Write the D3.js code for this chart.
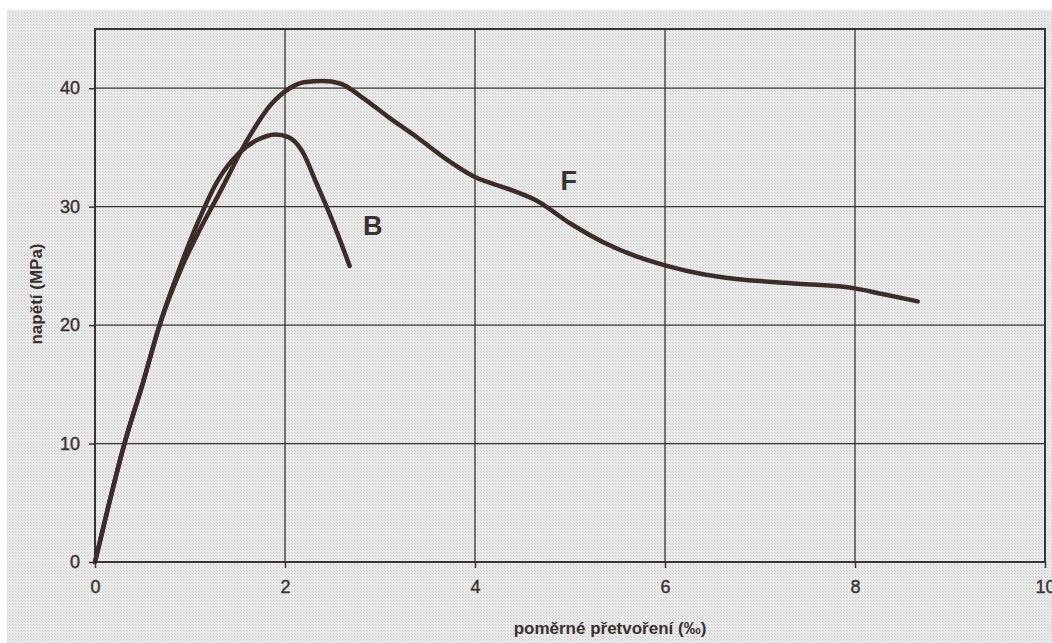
<!DOCTYPE html>
<html lang="cs">

<head>
    <meta charset="UTF-8">
    <title>napětí – přetvoření</title>
    <style>
        body {
            margin: 0;
            background: #fff;
        }

        svg text {
            font-family: "Liberation Sans", Arial, sans-serif;
            fill: #3a3230;
        }

        .curve {
            fill: none;
            stroke: #3d2c27;
            stroke-width: 4.5px;
            stroke-linecap: round;
            stroke-linejoin: round;
        }
    </style>
    <script src="https://d3js.org/d3.v7.min.js"></script>
</head>

<body>
    <div id="chart"></div>

    <script>
        // strain (‰) and stress (MPa)
        const B_STRAIN = [0, 0.15, 0.31, 0.5, 0.68, 0.9, 1.1, 1.3, 1.5, 1.7, 1.9, 2.03, 2.18, 2.33, 2.5, 2.68];
        const B_STRESS = [0, 5, 10, 15, 20, 25, 29, 32.3, 34.4, 35.6, 36.1, 35.9, 34.7, 32, 28.8, 25];

        const F_STRAIN = [0, 0.15, 0.31, 0.5, 0.68, 0.92, 1.1, 1.3, 1.63, 1.85, 2.05, 2.2, 2.4, 2.58, 2.8, 3.1, 3.4, 3.7, 4.0, 4.35, 4.65, 5.0, 5.35, 5.7, 6.0, 6.4, 6.75, 7.4, 8.0, 8.3, 8.66];
        const F_STRESS = [0, 5, 10, 15, 20, 25, 28, 31, 36, 38.6, 40, 40.5, 40.6, 40.4, 39.3, 37.5, 35.8, 34, 32.5, 31.5, 30.5, 28.6, 27, 25.8, 25.05, 24.3, 23.9, 23.5, 23.1, 22.6, 22];

        const X_TICKS = [0, 2, 4, 6, 8, 10];
        const Y_TICKS = [0, 10, 20, 30, 40];

        const LABELS = [
            { text: "B", x: 2.82, y: 27.6 },
            { text: "F", x: 4.9, y: 31.4 }
        ];

        const W = 1052, H = 643;
        const margin = { top: 29, right: 7, bottom: 81, left: 95 };
        const width = W - margin.left - margin.right,
            height = H - margin.top - margin.bottom;

        const x = d3.scaleLinear().domain([0, 10]).range([0, width]);
        const y = d3.scaleLinear().domain([0, 45]).range([height, 0]);

        const svg = d3.select("#chart").append("svg")
            .attr("width", W)
            .attr("height", H);

        // photocopied paper texture
        const defs = svg.append("defs");
        const pat = defs.append("pattern")
            .attr("id", "dots")
            .attr("width", 3).attr("height", 3)
            .attr("patternUnits", "userSpaceOnUse");
        pat.append("rect").attr("width", 3).attr("height", 3).attr("fill", "#eaeaea");
        pat.append("rect").attr("width", 1).attr("height", 1).attr("fill", "#c9c9c9");
        pat.append("rect").attr("x", 1).attr("y", 1).attr("width", 1).attr("height", 1).attr("fill", "#d6d6d6");

        svg.append("rect")
            .attr("x", 7).attr("y", 10)
            .attr("width", W - 7).attr("height", H - 10)
            .attr("fill", "url(#dots)");

        const g = svg.append("g")
            .attr("transform", "translate(" + margin.left + "," + margin.top + ")");

        // grid
        g.append("g")
            .selectAll("line")
            .data(X_TICKS.filter(d => d > 0 && d < 10))
            .join("line")
            .attr("x1", d => x(d)).attr("x2", d => x(d))
            .attr("y1", 0).attr("y2", height)
            .attr("stroke", "#3a3230").attr("stroke-width", 1.3);

        g.append("g")
            .selectAll("line")
            .data(Y_TICKS.filter(d => d > 0))
            .join("line")
            .attr("x1", 0).attr("x2", width)
            .attr("y1", d => y(d)).attr("y2", d => y(d))
            .attr("stroke", "#3a3230").attr("stroke-width", 1.3);

        // frame
        g.append("rect")
            .attr("width", width).attr("height", height)
            .attr("fill", "none")
            .attr("stroke", "#3a3230").attr("stroke-width", 2);

        // axes
        const xAxis = g.append("g")
            .attr("transform", "translate(0," + height + ")")
            .call(d3.axisBottom(x).tickValues(X_TICKS).tickSize(6).tickPadding(12));
        const yAxis = g.append("g")
            .call(d3.axisLeft(y).tickValues(Y_TICKS).tickSize(6).tickPadding(9));

        [xAxis, yAxis].forEach(a => {
            a.select(".domain").remove();
            a.selectAll("line").attr("stroke", "#3a3230").attr("stroke-width", 1.5);
            a.selectAll("text")
                .attr("font-size", 18)
                .attr("font-family", "Liberation Sans, Arial, sans-serif")
                .attr("fill", "#3a3230")
                .attr("stroke", "#3a3230")
                .attr("stroke-width", 0.4);
        });

        // curves
        const line = d3.line()
            .x(d => x(d[0]))
            .y(d => y(d[1]))
            .curve(d3.curveMonotoneX);

        g.append("path")
            .datum(B_STRAIN.map((v, i) => [v, B_STRESS[i]]))
            .attr("class", "curve")
            .attr("d", line);

        g.append("path")
            .datum(F_STRAIN.map((v, i) => [v, F_STRESS[i]]))
            .attr("class", "curve")
            .attr("d", line);

        g.selectAll(".lbl")
            .data(LABELS)
            .join("text")
            .attr("class", "lbl")
            .attr("x", d => x(d.x))
            .attr("y", d => y(d.y))
            .attr("font-size", 27)
            .attr("font-weight", "bold")
            .text(d => d.text);

        // axis titles
        svg.append("text")
            .attr("x", margin.left + width / 2 + 40)
            .attr("y", 634)
            .attr("text-anchor", "middle")
            .attr("font-size", 17)
            .attr("font-weight", "bold")
            .text("poměrné přetvoření (‰)");

        svg.append("text")
            .attr("transform", "translate(42,294) rotate(-90)")
            .attr("text-anchor", "middle")
            .attr("font-size", 17)
            .attr("font-weight", "bold")
            .text("napětí (MPa)");
    </script>
</body>

</html>
